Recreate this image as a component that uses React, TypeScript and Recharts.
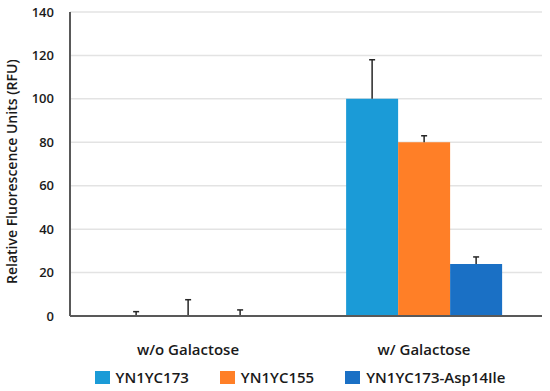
import React from "react";
import {
  BarChart,
  Bar,
  XAxis,
  YAxis,
  CartesianGrid,
  Legend,
} from "recharts";

const categories = ["w/o Galactose", "w/ Galactose"];
const yn173 = [0.3, 100];
const yn173Err = [1.7, 18];
const yn155 = [0.3, 80];
const yn155Err = [7.2, 3];
const asp14 = [0.3, 24];
const asp14Err = [2.5, 3.2];
const yTicks = [0, 20, 40, 60, 80, 100, 120, 140];

const series = [
  { key: "a", name: "YN1YC173", color: "#1b9bd7" },
  { key: "b", name: "YN1YC155", color: "#ff7f27" },
  { key: "c", name: "YN1YC173-Asp14Ile", color: "#1a70c5" },
];

const data = categories.map((cat, i) => ({
  cat,
  a: yn173[i],
  aErr: yn173Err[i],
  b: yn155[i],
  bErr: yn155Err[i],
  c: asp14[i],
  cErr: asp14Err[i],
}));

const FONT = "'Open Sans', sans-serif";

// one-sided error bar: stacked on top of the value bar, drawn as a whisker with a top cap
const ErrShape = (props: any) => {
  const { x, y, width, height } = props;
  if (height == null || isNaN(height)) return null;
  const cx = x + width / 2;
  return (
    <g stroke="#262626" strokeWidth={1.5}>
      <line x1={cx} y1={y} x2={cx} y2={y + height} />
      <line x1={cx - 3} y1={y} x2={cx + 3} y2={y} />
    </g>
  );
};

// legend drawn by hand so the spacing matches
const CustomLegend = () => (
  <div
    style={{
      display: "flex",
      justifyContent: "center",
      gap: 31,
      paddingLeft: 58,
      position: "relative",
      top: 5,
      fontFamily: FONT,
      fontWeight: 600,
      fontSize: 15,
      color: "#1a1a1a",
    }}
  >
    {series.map((s) => (
      <div key={s.key} style={{ display: "flex", alignItems: "center", gap: 6 }}>
        <div style={{ width: 15, height: 13, background: s.color }} />
        <span>{s.name}</span>
      </div>
    ))}
  </div>
);

export default function App() {
  return (
    <div style={{ position: "absolute", left: 0, top: 0, width: 550, height: 391, background: "#fff" }}>
      <BarChart
        width={550}
        height={391}
        data={data}
        margin={{ top: 12, right: 8, left: 0, bottom: 9 }}
        barCategoryGap="17%"
        barGap={0}
      >
        <CartesianGrid vertical={false} stroke="#e3e3e3" strokeWidth={1.5} />
        <XAxis
          dataKey="cat"
          height={46}
          tickLine={false}
          axisLine={{ stroke: "#595959", strokeWidth: 2 }}
          tick={{ fill: "#1a1a1a", fontSize: 15, fontWeight: 600, fontFamily: FONT }}
          tickMargin={22}
        />
        <YAxis
          width={70}
          domain={[0, 140]}
          ticks={yTicks}
          tickLine={false}
          axisLine={{ stroke: "#595959", strokeWidth: 2 }}
          tick={{ fill: "#1a1a1a", fontSize: 13, fontWeight: 600, fontFamily: FONT }}
          tickMargin={10}
          label={{
            value: "Relative Fluorescence Units (RFU)",
            angle: -90,
            position: "insideLeft",
            dx: 7,
            dy: 120,
            style: { fill: "#1a1a1a", fontSize: 14, fontWeight: 600, fontFamily: FONT },
          }}
        />
        <Legend verticalAlign="bottom" content={<CustomLegend />} />
        {series.map((s) => (
          <Bar
            key={s.key}
            dataKey={s.key}
            stackId={s.key}
            name={s.name}
            fill={s.color}
            isAnimationActive={false}
          />
        ))}
        {series.map((s) => (
          <Bar
            key={s.key + "Err"}
            dataKey={`${s.key}Err`}
            stackId={s.key}
            legendType="none"
            fill="none"
            shape={<ErrShape />}
            isAnimationActive={false}
          />
        ))}
      </BarChart>
    </div>
  );
}
